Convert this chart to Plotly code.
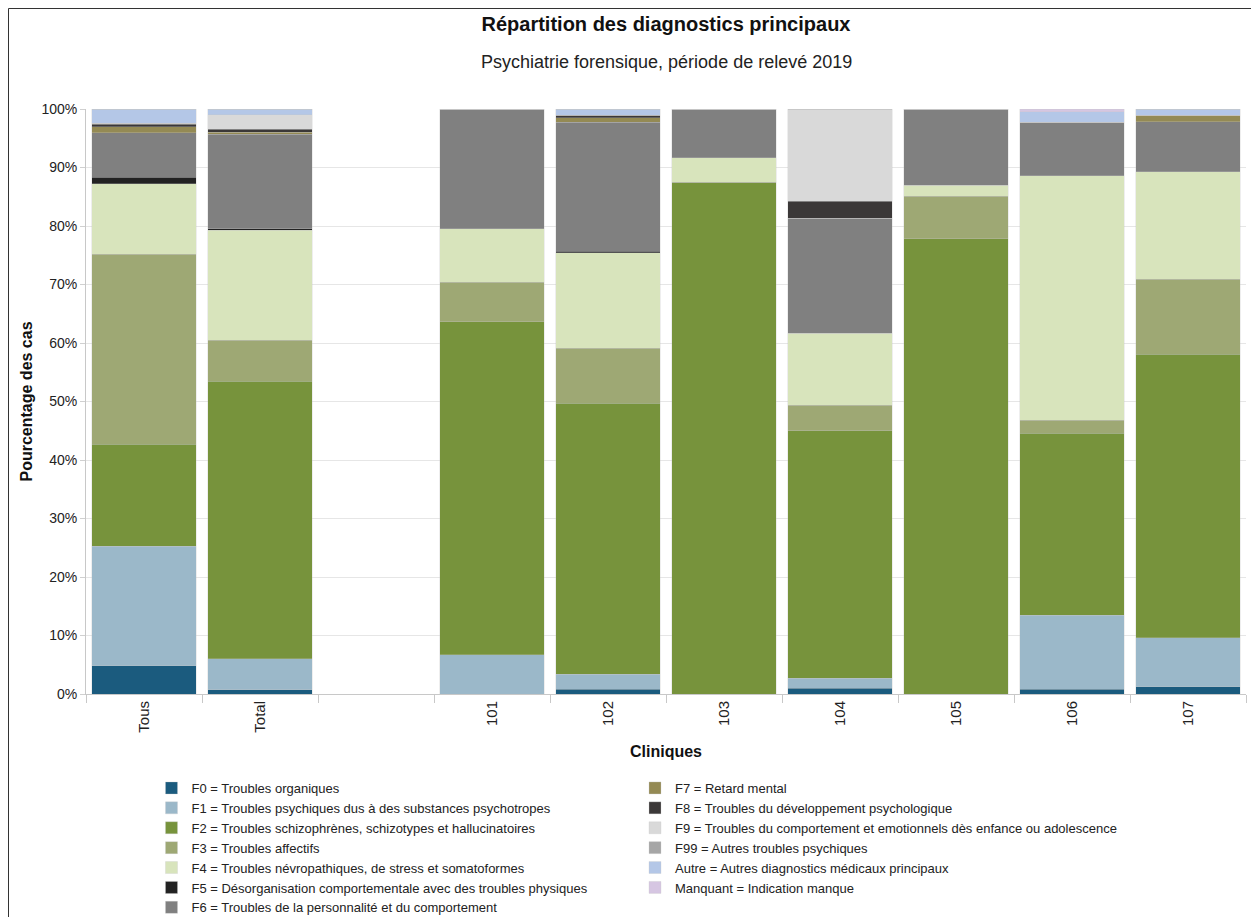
import plotly.graph_objects as go

categories = ["Tous", "Total", " ", "101", "102", "103", "104", "105", "106", "107"]

f0 = [4.8, 0.7, None, 0, 0.8, 0, 1.0, 0, 0.8, 1.2]
f1 = [20.5, 5.3, None, 6.7, 2.6, 0, 1.7, 0, 12.7, 8.4]
f2 = [17.4, 47.5, None, 56.9, 46.3, 87.5, 42.3, 77.8, 31.1, 48.5]
f3 = [32.5, 7.0, None, 6.8, 9.4, 0, 4.4, 7.3, 2.2, 12.8]
f4 = [12.0, 18.8, None, 9.1, 16.3, 4.2, 12.3, 1.9, 41.8, 18.4]
f5 = [1.1, 0.2, None, 0, 0.3, 0, 0, 0, 0, 0]
f6 = [7.6, 16.2, None, 20.5, 22.0, 8.3, 19.6, 13.0, 9.1, 8.5]
f7 = [1.1, 0.3, None, 0, 0.8, 0, 0, 0, 0, 1.1]
f8 = [0.4, 0.5, None, 0, 0.4, 0, 2.9, 0, 0, 0]
f9 = [0.2, 2.5, None, 0, 0, 0, 15.8, 0, 0, 0]
f99 = [0, 0, None, 0, 0, 0, 0, 0, 0, 0]
autre = [2.4, 1.0, None, 0, 1.1, 0, 0, 0, 1.8, 1.1]
manquant = [0, 0, None, 0, 0, 0, 0, 0, 0.5, 0]

series_names = [
    "F0 = Troubles organiques",
    "F1 = Troubles psychiques dus à des substances psychotropes",
    "F2 = Troubles schizophrènes, schizotypes et hallucinatoires",
    "F3 = Troubles affectifs",
    "F4 = Troubles névropathiques, de stress et somatoformes",
    "F5 = Désorganisation comportementale avec des troubles physiques",
    "F6 = Troubles de la personnalité et du comportement",
    "F7 = Retard mental",
    "F8 = Troubles du développement psychologique",
    "F9 = Troubles du comportement et emotionnels dès enfance ou adolescence",
    "F99 = Autres troubles psychiques",
    "Autre = Autres diagnostics médicaux principaux",
    "Manquant = Indication manque",
]
series_values = [f0, f1, f2, f3, f4, f5, f6, f7, f8, f9, f99, autre, manquant]
colors = ["#1b5b7e", "#9bb8c9", "#77933c", "#9ea874", "#d8e4bc", "#222222",
          "#808080", "#948a54", "#3b3838", "#d9d9d9", "#a6a6a6", "#b4c7e7", "#d6c6e2"]

FONT = "Liberation Sans, Arial, sans-serif"
# page body has an 8px margin; figure coordinates = screen - 8
OFF = 8
W, H = 1259 - OFF, 917 - OFF
L, R, T, B = 86 - OFF, 13, 109 - OFF, 223
PW, PH = W - L - R, H - T - B

fig = go.Figure()
for i, (name, vals, col) in enumerate(zip(series_names, series_values, colors)):
    fig.add_trace(go.Bar(
        x=categories, y=vals, name=name,
        marker=dict(color=col, line=dict(color="rgba(200,200,200,0.6)", width=0.5)),
        legend="legend" if i < 7 else "legend2",
    ))

legend_common = dict(
    font=dict(family=FONT, size=13, color="#222"),
    bgcolor="rgba(0,0,0,0)", traceorder="normal",
    xanchor="left", yanchor="top", orientation="v",
    xref="container", yref="container",
)

fig.update_layout(
    barmode="stack",
    bargap=0.1,
    width=W, height=H,
    paper_bgcolor="white", plot_bgcolor="white",
    margin=dict(l=L, r=R, t=T, b=B, autoexpand=False),
    font=dict(family=FONT, size=13, color="#222"),
    title=dict(
        text="<b>Répartition des diagnostics principaux</b>",
        font=dict(family=FONT, size=20, color="#111"),
        x=0.5, xref="paper", xanchor="center",
        y=1 - (24 - OFF) / H, yref="container", yanchor="middle",
    ),
    annotations=[
        dict(
            text="Psychiatrie forensique, période de relevé 2019",
            xref="paper", yref="paper", x=0.5, y=(PH + T - (62 - OFF)) / PH,
            xanchor="center", yanchor="middle", showarrow=False,
            font=dict(family=FONT, size=18, color="#222"),
        ),
        dict(
            text="<b>Pourcentage des cas</b>",
            xref="paper", yref="paper", x=((26 - OFF) - L) / PW, y=0.5,
            xanchor="center", yanchor="middle", showarrow=False, textangle=-90,
            font=dict(family=FONT, size=16, color="#111"),
        ),
    ],
    xaxis=dict(
        type="category", categoryorder="array", categoryarray=categories,
        tickangle=-90, ticks="outside", tickson="boundaries", ticklen=8,
        tickcolor="#c8c8c8", showline=True, linecolor="#c8c8c8",
        tickfont=dict(family=FONT, size=15, color="#222"),
        title=dict(text="<b>Cliniques</b>", font=dict(family=FONT, size=16, color="#111"), standoff=14),
        showgrid=False, automargin=True,
    ),
    yaxis=dict(
        range=[0, 100], dtick=10, ticksuffix="%",
        ticks="outside", ticklen=5, tickcolor="#d0d0d0",
        showgrid=True, gridcolor="#e6e6e6", gridwidth=1,
        showline=True, linecolor="#c8c8c8", zeroline=False,
        tickfont=dict(family=FONT, size=14, color="#222"),
        automargin=False,
    ),
    legend=dict(x=(151.5 - OFF) / W, y=1 - (773 - OFF) / H, **legend_common),
    legend2=dict(x=(635 - OFF) / W, y=1 - (773 - OFF) / H, **legend_common),
    shapes=[dict(type="rect", xref="paper", yref="paper",
                 x0=(0.5 - L) / PW, x1=(W - 0.5 - L) / PW,
                 y0=(PH + T - (H + 5)) / PH, y1=(PH + T - 0.5) / PH,
                 line=dict(color="#333", width=1), layer="below")],
)

fig.write_html("out.html")
